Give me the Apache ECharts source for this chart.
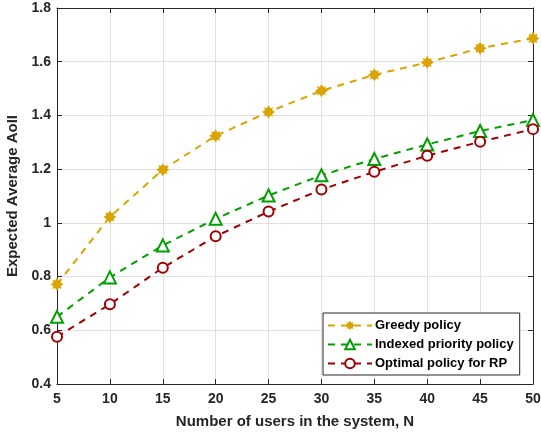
<!DOCTYPE html>
<html><head><meta charset="utf-8">
<script src="https://cdn.jsdelivr.net/npm/echarts@6/dist/echarts.min.js"></script>
<style>html,body{margin:0;padding:0;background:#fff}#c{width:541px;height:435px}</style>
</head><body><div id="c"></div>
<script>
const users = [5, 10, 15, 20, 25, 30, 35, 40, 45, 50];
const greedy = [0.771, 1.022, 1.198, 1.324, 1.413, 1.492, 1.551, 1.597, 1.650, 1.687];
const indexed = [0.650, 0.797, 0.916, 1.015, 1.102, 1.177, 1.238, 1.292, 1.342, 1.383];
const optimal = [0.576, 0.697, 0.833, 0.950, 1.042, 1.124, 1.190, 1.250, 1.302, 1.349];
const seriesNames = ['Greedy policy', 'Indexed priority policy', 'Optimal policy for RP'];
const xTicks = {min: 5, max: 50, step: 5};
const yTicks = {min: 0.4, max: 1.8, step: 0.2};

const font = 'Liberation Sans, Arial, sans-serif';
const starPath = 'path://M0,-10 L3,-5.5 L7.1,-7.1 L5.5,-3 L10,0 L5.5,3 L7.1,7.1 L3,5.5 L0,10 L-3,5.5 L-7.1,7.1 L-5.5,3 L-10,0 L-5.5,-3 L-7.1,-7.1 L-3,-5.5 Z';
const colors = ['#D9A300', '#00A000', '#A00000'];
const pair = arr => users.map((u, i) => [u, arr[i]]);

function mk(name, data, color, symbol, size, hollow) {
  return {
    name, type: 'line', data: pair(data), symbol, symbolSize: size,
    showAllSymbol: true,
    lineStyle: {color, width: 2, type: [7, 6]},
    itemStyle: hollow ? {color: '#fff', borderColor: color, borderWidth: 2} : {color, borderColor: color, borderWidth: 0},
    emphasis: {disabled: true}, z: 3
  };
}
const chart = echarts.init(document.getElementById('c'), null, {renderer: 'canvas'});
const axisCommon = {
  axisLine: {show: true, lineStyle: {color: '#262626', width: 1}},
  axisTick: {show: true, inside: true, length: 5, lineStyle: {color: '#262626'}},
};
chart.setOption({
  animation: false,
  backgroundColor: '#fff',
  grid: {left: 57, right: 8, top: 8, bottom: 51, show: false, containLabel: false, outerBoundsMode: 'none'},
  legend: {
    orient: 'vertical', left: 323, top: 313,
    itemWidth: 44, itemHeight: 12, itemGap: 6,
    padding: [6, 6, 5, 4],
    borderColor: '#262626', borderWidth: 1, backgroundColor: '#fff',
    textStyle: {fontFamily: font, fontWeight: 'bold', fontSize: 13, color: '#000', padding: [0, 0, 0, -2]},
    data: seriesNames
  },
  xAxis: [{
    type: 'value', min: xTicks.min, max: xTicks.max, interval: xTicks.step,
    name: 'Number of users in the system, N', nameLocation: 'middle', nameGap: 30,
    nameTextStyle: {fontFamily: font, fontWeight: 'bold', fontSize: 15, color: '#262626'},
    axisLabel: {fontFamily: font, fontWeight: 'bold', fontSize: 14, color: '#262626', margin: 8},
    splitLine: {show: true, lineStyle: {color: '#e0e0e0', width: 1}},
    ...axisCommon
  }, {
    type: 'value', position: 'top', min: xTicks.min, max: xTicks.max, interval: xTicks.step,
    axisLabel: {show: false}, splitLine: {show: false}, ...axisCommon
  }],
  yAxis: [{
    type: 'value', min: yTicks.min, max: yTicks.max, interval: yTicks.step,
    name: 'Expected Average AoII', nameLocation: 'middle', nameGap: 34,
    nameTextStyle: {fontFamily: font, fontWeight: 'bold', fontSize: 15, color: '#262626'},
    axisLabel: {fontFamily: font, fontWeight: 'bold', fontSize: 14, color: '#262626', margin: 6,
      formatter: v => String(Math.round(v * 10) / 10)},
    splitLine: {show: true, lineStyle: {color: '#e0e0e0', width: 1}},
    ...axisCommon
  }, {
    type: 'value', position: 'right', min: yTicks.min, max: yTicks.max, interval: yTicks.step,
    axisLabel: {show: false}, splitLine: {show: false}, ...axisCommon
  }],
  series: [
    mk(seriesNames[0], greedy, colors[0], starPath, 13, false),
    mk(seriesNames[1], indexed, colors[1], 'triangle', 12, true),
    mk(seriesNames[2], optimal, colors[2], 'circle', 10, true)
  ]
});
</script></body></html>
